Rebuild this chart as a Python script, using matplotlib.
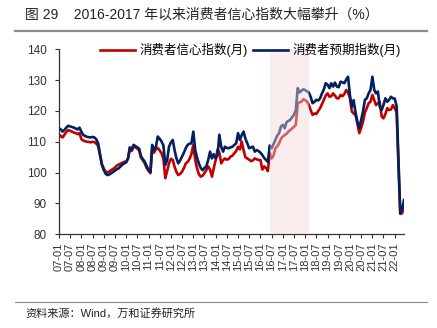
import pandas as pd
import matplotlib.pyplot as plt
from matplotlib.lines import Line2D

plt.rcParams['font.family'] = ['Liberation Sans', 'Noto Sans CJK SC']

# monthly values, 2007-01 .. 2022-06
cci = [  # 消费者信心指数(月)
    112.4, 111.8, 111.4, 112.3, 113.2, 113.8, 113.6, 113.3, 113.0, 112.8, 112.5, 112.8,
    110.9, 110.4, 110.2, 110.0, 110.0, 109.8, 110.0, 109.9, 109.4, 108.6, 105.5, 102.8,
    101.3, 100.3, 100.0, 100.4, 100.8, 101.2, 101.6, 102.3, 102.6, 102.9, 103.2, 103.5,
    103.6, 104.6, 107.6, 107.0, 108.4, 108.2, 107.8, 107.2, 104.8, 104.0, 103.0, 101.5,
    100.6, 99.8, 107.3, 106.5, 107.6, 108.0, 107.2, 106.3, 104.5, 98.2, 100.5, 103.0,
    104.5, 104.1, 101.9, 100.2, 99.2, 99.6, 100.3, 101.5, 103.0, 103.5, 104.5, 106.0,
    109.0, 104.1, 101.5, 99.5, 98.7, 99.0, 99.8, 100.8, 102.0, 101.0, 98.7, 101.5,
    104.1, 107.5, 106.5, 103.0, 104.0, 104.6, 104.2, 104.4, 105.2, 105.5, 106.3, 107.0,
    108.4, 107.5, 110.1, 107.3, 105.0, 104.6, 104.2, 103.7, 104.0, 104.6, 104.3, 104.1,
    104.1, 101.0, 102.0, 101.5, 100.5, 106.5, 104.6, 105.5, 107.9, 108.5, 109.5, 111.0,
    111.7, 112.2, 112.6, 113.3, 113.8, 114.3, 114.9, 115.5, 122.5, 122.8, 123.0, 123.8,
    123.5, 123.0, 122.0, 120.2, 118.7, 119.2, 119.0, 120.0, 120.9, 122.2, 123.6, 125.0,
    125.7, 124.6, 124.8, 125.7, 125.0, 124.1, 124.1, 125.2, 124.8, 125.5, 126.8, 126.0,
    124.1, 119.8, 119.2, 118.7, 116.0, 112.8, 114.5, 116.5, 119.5, 120.9, 122.5, 123.0,
    125.2, 123.5, 121.9, 122.5, 123.0, 118.2, 117.6, 119.0, 120.9, 120.3, 120.5, 121.9,
    120.9, 119.5, 103.0, 86.6, 86.8, 88.9,
]
cei = [  # 消费者预期指数(月)
    114.4, 114.0, 113.3, 113.9, 114.6, 115.2, 115.0, 114.8, 114.6, 114.3, 114.0, 114.6,
    113.3, 112.2, 111.9, 111.6, 111.5, 111.4, 111.6, 111.4, 110.8, 109.5, 106.0, 102.5,
    100.8, 99.6, 99.2, 99.4, 99.8, 100.2, 100.6, 101.1, 101.4, 102.0, 102.6, 103.0,
    103.3, 104.6, 108.2, 107.5, 109.0, 108.6, 108.2, 107.8, 105.2, 104.4, 103.5, 102.2,
    100.8, 100.3, 109.0, 107.3, 108.4, 111.7, 111.0, 110.1, 108.8, 102.5, 104.0, 108.4,
    109.8, 110.6, 107.3, 104.6, 103.0, 104.0, 105.2, 106.5, 108.0, 109.0, 109.4, 109.5,
    113.3, 107.3, 105.0, 103.0, 101.5, 100.8, 101.5, 102.0, 104.1, 106.8, 104.6, 106.0,
    104.6, 105.7, 112.3, 108.4, 106.8, 108.4, 108.0, 107.9, 108.2, 108.4, 109.0, 109.5,
    112.8, 110.6, 112.2, 113.3, 111.0, 109.5, 107.9, 108.2, 108.4, 106.8, 107.3, 107.0,
    106.5, 105.7, 104.8, 104.1, 103.5, 108.8, 107.9, 109.2, 110.6, 112.0, 112.8, 115.0,
    115.5, 114.4, 116.3, 116.8, 117.1, 118.0, 118.7, 120.3, 127.4, 126.0, 126.6, 127.0,
    126.8, 126.3, 126.0, 124.5, 122.5, 123.0, 123.6, 123.4, 124.1, 125.7, 127.0, 129.0,
    128.5, 127.4, 129.0, 127.9, 129.2, 127.9, 127.7, 129.5, 129.3, 129.0, 130.2, 131.1,
    125.0, 121.4, 123.5, 119.5, 116.5, 114.4, 117.1, 119.8, 123.6, 124.1, 125.7, 126.8,
    131.1, 126.8, 125.7, 126.3, 121.4, 120.3, 121.9, 124.1, 123.0, 123.6, 124.6, 124.1,
    124.0, 121.5, 105.0, 86.9, 88.0, 91.1,
]
dates = pd.date_range('2007-01-01', periods=len(cci), freq='MS')

# highlighted period
shade_start = pd.Timestamp('2016-06-01')
shade_end = pd.Timestamp('2018-03-01')

fig = plt.figure(figsize=(4.37, 3.28), dpi=100)
ax = fig.add_axes([0.135, 0.2857, 0.7895, 0.564])

ax.plot(dates, cci, color='#c00000', lw=1.9, label='消费者信心指数(月)', zorder=2)
ax.plot(dates, cei, color='#002060', lw=1.9, label='消费者预期指数(月)', zorder=2)
# the shading sits on top of the lines, so they look faded inside it
ax.axvspan(shade_start, shade_end, color='#f0d7d7', alpha=0.45, lw=0, zorder=3)

ax.set_ylim(80, 140)
ax.set_yticks(range(80, 141, 10))
ax.set_xlim(dates[0], dates[-1])
ticks = pd.date_range('2007-01-01', '2022-01-01', freq='6MS')
ax.set_xticks(ticks)
ax.set_xticklabels([d.strftime('%y-%m') for d in ticks], rotation=90)

for s in ['top', 'right']:
    ax.spines[s].set_visible(False)
for s in ['left', 'bottom']:
    ax.spines[s].set_color('#333333')
    ax.spines[s].set_linewidth(0.9)
ax.tick_params(direction='out', length=3, width=0.8, colors='#333333', labelsize=8)
ax.tick_params(axis='y', pad=6, labelsize=8.5)
ax.tick_params(axis='x', pad=3)

ax.legend(loc='center', bbox_to_anchor=(0.555, 0.995), ncol=2, frameon=False,
          fontsize=9, handlelength=2.8, columnspacing=0.4, handletextpad=0.4)

# title, rules and source
fig.text(25 / 437, 1 - 15 / 328, '图 29    2016-2017 年以来消费者信心指数大幅攀升（%）',
         fontsize=10, va='center', color='#222222')
fig.add_artist(Line2D([15 / 437, 427 / 437], [1 - 31 / 328] * 2, color='#8c8c8c', lw=1.6))
fig.add_artist(Line2D([15 / 437, 427 / 437], [1 - 302 / 328] * 2, color='#8c8c8c', lw=0.8))
fig.text(25 / 437, 1 - 313 / 328, '资料来源：Wind，万和证券研究所', fontsize=8, va='center',
         color='#222222')

fig.savefig('out.png', dpi=100)
